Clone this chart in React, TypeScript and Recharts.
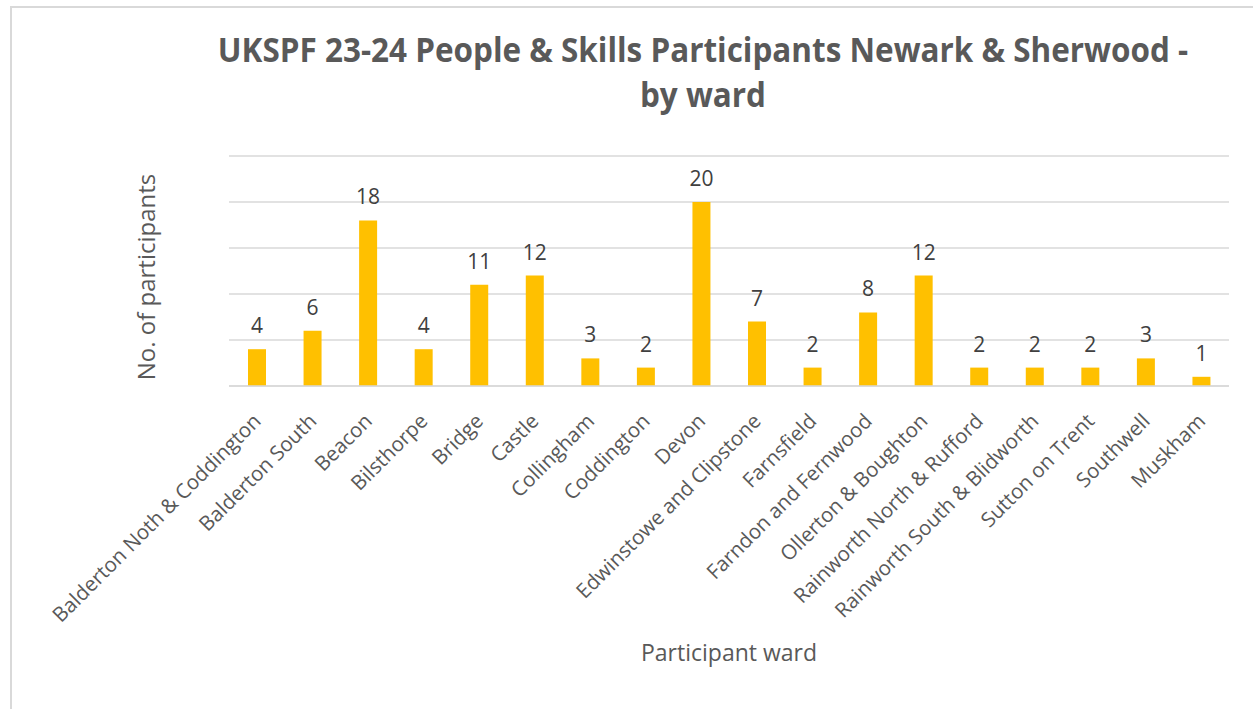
import React from "react";
import { Bar, BarChart, CartesianGrid, LabelList, XAxis, YAxis } from "recharts";

const wards = [
  "Balderton Noth & Coddington",
  "Balderton South",
  "Beacon",
  "Bilsthorpe",
  "Bridge",
  "Castle",
  "Collingham",
  "Coddington",
  "Devon",
  "Edwinstowe and Clipstone",
  "Farnsfield",
  "Farndon and Fernwood",
  "Ollerton & Boughton",
  "Rainworth North & Rufford",
  "Rainworth South & Blidworth",
  "Sutton on Trent",
  "Southwell",
  "Muskham",
];

const participants = [4, 6, 18, 4, 11, 12, 3, 2, 20, 7, 2, 8, 12, 2, 2, 2, 3, 1];

const yTicks = [0, 5, 10, 15, 20, 25];

const data = wards.map((ward, i) => ({ ward, value: participants[i] }));

const FONT = "'Open Sans', 'Noto Sans', sans-serif";
const TEXT = "#595959";

function WardTick({ x, y, payload }: any) {
  return (
    <g transform={`translate(${x - 5},${y + 20})`}>
      <text
        x={0}
        y={0}
        dy="0.72em"
        textAnchor="end"
        transform="rotate(-45)"
        fill={TEXT}
        fontSize={20.5}
        fontFamily={FONT}
      >
        {payload.value}
      </text>
    </g>
  );
}

function YTitle({ viewBox }: any) {
  const cx = viewBox.x + 16;
  const cy = viewBox.y + viewBox.height / 2 + 6;
  return (
    <text
      x={cx}
      y={cy}
      textAnchor="middle"
      transform={`rotate(-90, ${cx}, ${cy})`}
      fill={TEXT}
      fontSize={24}
      fontFamily={FONT}
    >
      No. of participants
    </text>
  );
}

export default function App() {
  return (
    <div style={{ position: "absolute", left: 0, top: 0, width: 1253, height: 709, background: "#fff", fontFamily: FONT }}>
      <div
        style={{
          position: "absolute",
          left: 10,
          top: 6,
          right: 0,
          bottom: 0,
          borderTop: "2px solid #d9d9d9",
          borderLeft: "2px solid #d9d9d9",
        }}
      />
      <div
        style={{
          position: "absolute",
          left: 0,
          width: 1406,
          top: 27,
          textAlign: "center",
          color: TEXT,
          fontWeight: 700,
          fontSize: 34,
          lineHeight: "45px",
          transform: "scaleX(0.925)",
          transformOrigin: "703px 0",
        }}
      >
        UKSPF 23-24 People &amp; Skills Participants Newark &amp; Sherwood -
        <br />
        by ward
      </div>
      <div style={{ position: "absolute", left: 0, top: 0 }}>
        <BarChart
          width={1253}
          height={709}
          data={data}
          margin={{ top: 156, right: 24, left: 139, bottom: 43 }}
          barCategoryGap="34%"
        >
          <CartesianGrid vertical={false} stroke="#d9d9d9" strokeWidth={1.5} />
          <YAxis
            domain={[0, 25]}
            ticks={yTicks}
            tick={{ fill: "none", fontSize: 1 }}
            axisLine={false}
            tickLine={false}
            width={90}
            label={{ content: <YTitle /> }}
          />
          <XAxis
            dataKey="ward"
            interval={0}
            height={280}
            tickLine={false}
            tickMargin={0}
            axisLine={{ stroke: "#d9d9d9", strokeWidth: 1.5 }}
            tick={<WardTick />}
            label={{
              value: "Participant ward",
              position: "insideBottom",
              offset: 5,
              fill: TEXT,
              fontSize: 23,
              fontFamily: FONT,
            }}
          />
          <Bar dataKey="value" fill="#FFC000" barSize={18} isAnimationActive={false}>
            <LabelList dataKey="value" position="top" offset={16} fill="#404040" fontSize={21} fontFamily={FONT} />
          </Bar>
        </BarChart>
      </div>
    </div>
  );
}
